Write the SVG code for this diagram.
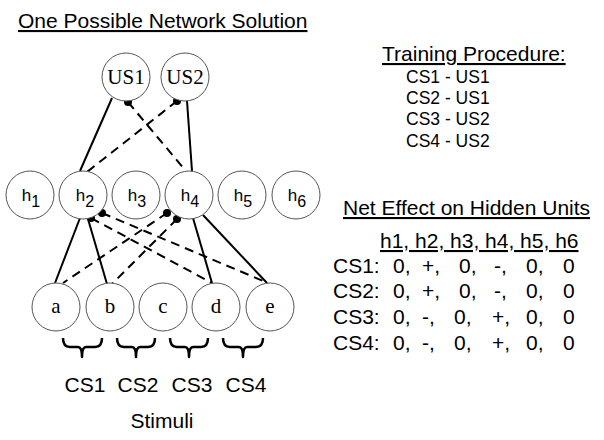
<svg xmlns="http://www.w3.org/2000/svg" width="604" height="440" viewBox="0 0 604 440">
<style>
.node{fill:#fff;stroke:#555;stroke-width:1}
.ser{font-family:"Liberation Serif","Times New Roman",serif;font-size:21px;fill:#000;text-anchor:middle}
.hl{font-family:"Liberation Sans",Arial,sans-serif;font-size:17px;fill:#000;text-anchor:middle}
.sans{font-family:"Liberation Sans",Arial,sans-serif;fill:#000}
.hd{font-size:21px;text-decoration:underline}
.solid{stroke:#000;stroke-width:2;fill:none}
.dash{stroke:#000;stroke-width:2;fill:none;stroke-dasharray:9,6}
.dot{fill:#000}
.brace{stroke:#000;stroke-width:2.5;fill:none;stroke-linejoin:round}
</style>
<rect width="604" height="440" fill="#fff"/>
<text class="sans hd" x="18" y="28">One Possible Network Solution</text>

<g id="connectors">
<line class="solid" x1="112" y1="98" x2="80" y2="171"/>
<line class="solid" x1="187" y1="101" x2="192" y2="171"/>
<line class="dash" x1="128" y1="102" x2="185" y2="170"/>
<line class="dash" x1="177" y1="101" x2="87" y2="172"/>
<circle class="dot" cx="128" cy="102" r="4"/>
<circle class="dot" cx="177" cy="101" r="4"/>

<line class="solid" x1="80" y1="218" x2="55" y2="283"/>
<line class="solid" x1="88" y1="219" x2="107" y2="284"/>
<line class="dash" x1="91" y1="218" x2="212" y2="283"/>
<line class="dash" x1="102" y1="213" x2="268" y2="283"/>
<line class="solid" x1="193" y1="218" x2="212" y2="283"/>
<line class="solid" x1="203" y1="215" x2="267" y2="283"/>
<line class="dash" x1="167" y1="213" x2="63" y2="283"/>
<line class="dash" x1="177" y1="219" x2="112" y2="284"/>
<circle class="dot" cx="91" cy="218" r="4"/>
<circle class="dot" cx="102" cy="213" r="4"/>
<circle class="dot" cx="167" cy="213" r="4"/>
<circle class="dot" cx="177" cy="219" r="4"/>
</g>

<g id="US1"><circle class="node" cx="126" cy="77" r="24"/><text class="ser" x="126" y="84">US1</text></g>
<g id="US2"><circle class="node" cx="185" cy="77" r="24"/><text class="ser" x="185" y="84">US2</text></g>

<g id="h1"><circle class="node" cx="30" cy="195" r="24"/><text class="hl" x="31" y="201">h<tspan dy="6" font-size="16">1</tspan></text></g>
<g id="h2"><circle class="node" cx="83" cy="195" r="24"/><text class="hl" x="85" y="201">h<tspan dy="6" font-size="16">2</tspan></text></g>
<g id="h3"><circle class="node" cx="136" cy="195" r="24"/><text class="hl" x="137" y="201">h<tspan dy="6" font-size="16">3</tspan></text></g>
<g id="h4"><circle class="node" cx="189" cy="195" r="24"/><text class="hl" x="190" y="201">h<tspan dy="6" font-size="16">4</tspan></text></g>
<g id="h5"><circle class="node" cx="242" cy="195" r="24"/><text class="hl" x="243" y="201">h<tspan dy="6" font-size="16">5</tspan></text></g>
<g id="h6"><circle class="node" cx="296" cy="195" r="24"/><text class="hl" x="297" y="201">h<tspan dy="6" font-size="16">6</tspan></text></g>

<g id="a"><circle class="node" cx="56" cy="307" r="24"/><text class="ser" x="56" y="313">a</text></g>
<g id="b"><circle class="node" cx="110" cy="307" r="24"/><text class="ser" x="110" y="313">b</text></g>
<g id="c"><circle class="node" cx="163" cy="307" r="24"/><text class="ser" x="163" y="313">c</text></g>
<g id="d"><circle class="node" cx="216" cy="307" r="24"/><text class="ser" x="216" y="313">d</text></g>
<g id="e"><circle class="node" cx="270" cy="307" r="24"/><text class="ser" x="270" y="313">e</text></g>

<g id="braces">
<path class="brace" d="M63,338 q0,9 7,9 H78 q4,0 4,10 q0,-10 4,-10 H95 q7,0 7,-9"/>
<path class="brace" d="M117,338 q0,9 7,9 H132 q4,0 4,10 q0,-10 4,-10 H148 q7,0 7,-9"/>
<path class="brace" d="M170,338 q0,9 7,9 H185 q4,0 4,10 q0,-10 4,-10 H201 q7,0 7,-9"/>
<path class="brace" d="M223,338 q0,9 7,9 H239 q4,0 4,10 q0,-10 4,-10 H256 q7,0 7,-9"/>
</g>
<g class="sans" font-size="21" text-anchor="middle">
<text x="85" y="392">CS1</text>
<text x="138" y="392">CS2</text>
<text x="192" y="392">CS3</text>
<text x="246" y="392">CS4</text>
<text x="162" y="428">Stimuli</text>
</g>

<text class="sans hd" x="382" y="61">Training Procedure:</text>
<g class="sans" font-size="17.5">
<text x="406" y="83">CS1 - US1</text>
<text x="406" y="104">CS2 - US1</text>
<text x="406" y="125">CS3 - US2</text>
<text x="406" y="147">CS4 - US2</text>
</g>

<text class="sans hd" x="343" y="215">Net Effect on Hidden Units</text>
<text class="sans hd" x="380" y="248">h1, h2, h3, h4, h5, h6</text>
<g class="sans" font-size="21">
<text y="273"><tspan x="333">CS1:</tspan><tspan x="393">0,</tspan><tspan x="422">+,</tspan><tspan x="459">0,</tspan><tspan x="494">-,</tspan><tspan x="526">0,</tspan><tspan x="563">0</tspan></text>
<text y="298"><tspan x="333">CS2:</tspan><tspan x="393">0,</tspan><tspan x="422">+,</tspan><tspan x="459">0,</tspan><tspan x="494">-,</tspan><tspan x="526">0,</tspan><tspan x="563">0</tspan></text>
<text y="324"><tspan x="333">CS3:</tspan><tspan x="393">0,</tspan><tspan x="422">-,</tspan><tspan x="454">0,</tspan><tspan x="492">+,</tspan><tspan x="526">0,</tspan><tspan x="563">0</tspan></text>
<text y="350"><tspan x="333">CS4:</tspan><tspan x="393">0,</tspan><tspan x="422">-,</tspan><tspan x="454">0,</tspan><tspan x="492">+,</tspan><tspan x="526">0,</tspan><tspan x="563">0</tspan></text>
</g>
</svg>
